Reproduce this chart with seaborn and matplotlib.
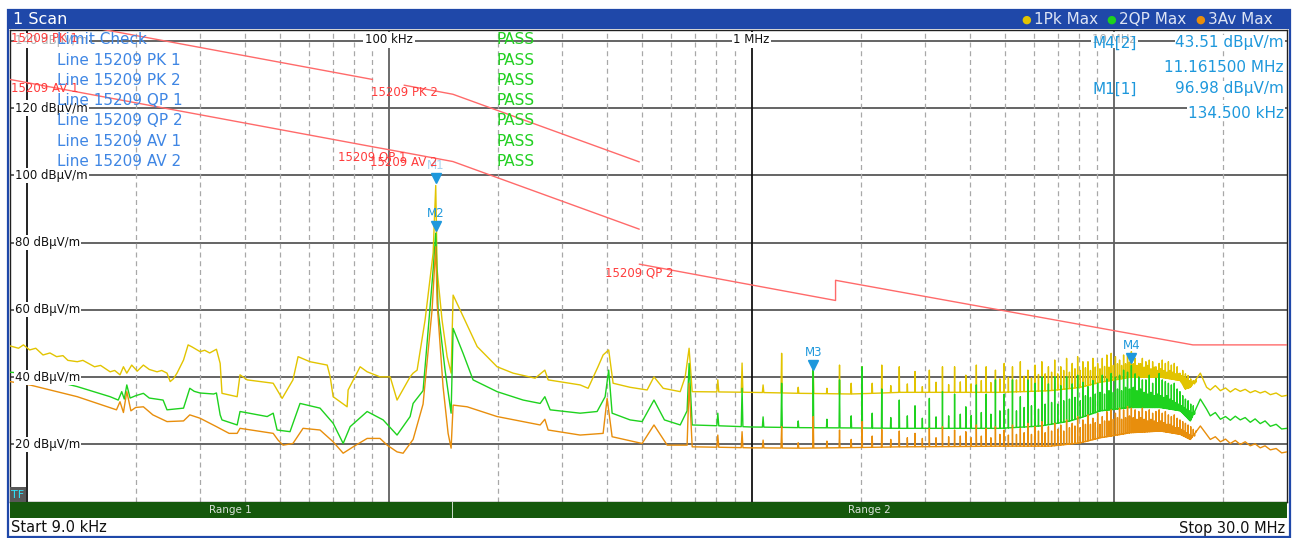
import numpy as np
import pandas as pd
import matplotlib
matplotlib.use("Agg")
import matplotlib.pyplot as plt
import seaborn as sns
from matplotlib.patches import Rectangle
from matplotlib.transforms import offset_copy

W, H = 1298, 538

# ---- traces, floor readings (kHz, dBuV/m) ----
pk_freq = [9.0, 9.5, 9.8, 10.2, 10.6, 11.1, 11.6, 12.1, 12.6, 13.0, 13.8, 14.3, 15.4, 16.0,
           17.0, 17.5, 18.1, 18.5, 18.9, 19.5, 20.2, 21.0, 21.8, 22.9, 23.6, 24.4, 24.9, 25.4,
           26.0, 27.1, 27.9, 28.6, 30.1, 31.0, 32.0, 33.4, 34.2, 34.6,
           38.1, 38.8, 40.6, 47.9, 50.7, 54.3, 56.1, 60.5, 67.5, 68.8, 70.1,
           76.6, 77.1, 83.2, 87.0, 94.4, 100.7, 105.2, 114.3, 116.5, 119.5, 125.7, 132.3, 134.5,
           135.7, 140.0, 144.6, 148.3, 150.2, 157.0, 175.0, 198.6, 219.9, 252.9, 269.0, 274.7,
           336.6, 354.1, 377.0, 389.5, 403.5, 415.0, 462.0, 515.1, 538.0, 570.4, 635.6, 656.0,
           672.5, 685.8, 991.5, 1362, 1871, 2571, 4854, 6670, 8069, 9160, 11090, 13410, 15240,
           15720, 16230, 17300, 18000, 18430, 19030, 19650, 20300, 20930, 21600, 22290, 23000,
           23760, 24500, 25310, 26100, 26990, 28000, 29000, 30000]
pk_level = [49.3, 48.6, 49.6, 48.1, 48.6, 46.6, 47.2, 46.1, 46.4, 45.0, 44.6, 45.0, 43.1, 43.5,
            41.6, 42.0, 40.7, 43.1, 41.2, 43.6, 41.8, 43.6, 42.3, 41.6, 42.0, 41.2, 38.7, 39.5,
            41.2, 45.1, 49.6, 49.0, 47.6, 48.0, 47.2, 48.3, 44.1, 35.2,
            34.2, 40.7, 39.2, 38.2, 33.7, 39.2, 46.1, 44.6, 43.6, 40.1, 34.2,
            31.2, 36.2, 43.1, 41.6, 40.1, 40.1, 33.2, 40.1, 41.2, 42.1, 57.0, 76.9, 96.98,
            71.9, 57.0, 46.1, 41.2, 64.4, 60.0, 49.1, 43.1, 41.2, 39.7, 42.1, 39.2,
            37.7, 36.7, 43.1, 46.6, 48.1, 38.2, 37.0, 36.2, 40.1, 36.7, 35.7, 40.1,
            48.6, 35.7, 35.5, 35.2, 35.0, 35.5, 35.5, 36.0, 37.0, 38.5, 40.0, 40.0, 39.0,
            36.5, 37.0, 41.2, 37.0, 36.2, 37.5, 36.0, 36.8, 35.6, 36.6, 35.8, 36.4,
            35.4, 36.0, 35.3, 35.8, 34.8, 35.3, 34.3, 34.6]

qp_freq = [9.0, 10.0, 11.1, 13.8, 17.0, 17.9, 18.3, 18.6, 18.9, 19.3, 20.0, 21.0, 21.8, 23.8,
           24.4, 27.1, 28.2, 29.0, 30.1, 32.8, 33.4, 34.2, 34.6,
           38.1, 38.8, 46.1, 47.9, 49.1, 53.3, 56.8, 64.5, 70.1, 74.7, 78.1, 87.0,
           96.3, 105.2, 114.3, 116.5, 124.1, 127.3, 132.3, 134.5, 136.5, 142.7, 148.3, 150.2,
           160.0, 170.5, 198.6, 234.4, 261.1, 269.0, 278.2, 336.6, 374.9, 394.5, 403.5, 412.4,
           462.3, 499.0, 538.0, 575.0, 635.6, 664.0, 672.5, 685.8, 991.5, 1362, 2571, 4854,
           6260, 7573, 9160, 11090, 13410, 15240, 16230, 17300, 18000, 18430, 19030, 19650,
           20300, 20930, 21600, 22290, 23000, 23760, 24500, 25310, 26100, 26990, 28000, 29000,
           30000]
qp_level = [41.5, 41.0, 39.7, 37.2, 34.2, 33.2, 35.7, 33.5, 37.7, 33.8, 34.5, 35.2, 33.8, 33.2,
            30.3, 30.8, 36.7, 35.8, 35.3, 35.0, 35.3, 28.8, 27.3,
            25.8, 29.8, 28.3, 29.3, 24.3, 23.8, 32.2, 30.8, 26.3, 20.3, 25.3, 29.8,
            27.3, 22.8, 28.3, 32.2, 36.0, 50.1, 71.9, 82.8, 60.0, 42.1, 29.3, 54.5,
            47.1, 39.2, 35.7, 33.2, 32.2, 34.2, 30.3, 29.3, 29.8, 34.2, 42.1, 29.3,
            27.3, 26.8, 33.2, 27.3, 25.8, 30.0, 44.1, 25.8, 25.2, 25.0, 24.8, 24.8,
            25.5, 27.0, 30.0, 31.0, 31.0, 30.0, 27.0, 33.5, 30.5, 28.5, 29.5, 27.5,
            28.3, 27.2, 28.4, 27.3, 28.0, 26.6, 27.6, 26.2, 27.0, 25.4, 26.0, 24.6,
            24.8]

av_freq = [9.0, 10.2, 13.8, 17.7, 18.1, 18.5, 18.9, 19.4, 20.0, 21.0, 22.3, 24.4, 27.1, 28.2,
           30.1, 33.4, 36.2,
           38.1, 38.8, 47.9, 49.4, 51.0, 54.3, 57.9, 64.5, 70.1, 74.7, 79.6, 87.0, 94.4, 98.8,
           105.2, 109.3, 116.5, 124.1, 131.4, 134.5, 135.7, 140.9, 145.5, 148.3, 150.2, 164.2,
           198.6, 234.4, 261.1, 269.0, 274.7, 336.6, 389.5, 399.5, 412.4, 499.0, 538.0, 585.1,
           664.0, 672.5, 685.8, 991.5, 1362, 2571, 4854, 6670, 8069, 9160, 11090, 13410, 15240,
           16230, 17300, 18000, 18430, 19030, 19650, 20300, 20930, 21600, 22290, 23000, 23760,
           24500, 25310, 26100, 26990, 28000, 29000, 30000]
av_level = [38.7, 37.7, 34.2, 30.3, 32.7, 29.5, 35.7, 30.0, 31.0, 31.2, 28.8, 26.8, 27.0, 28.8,
            27.8, 25.3, 23.3,
            23.3, 24.8, 23.3, 21.3, 19.8, 20.3, 24.8, 24.3, 20.8, 17.4, 19.3, 21.8, 21.8, 19.8,
            17.8, 17.4, 21.5, 32.0, 60.0, 78.8, 62.0, 37.2, 23.3, 18.9, 31.7, 31.2,
            28.3, 26.8, 25.8, 27.5, 24.3, 22.8, 23.3, 33.7, 22.3, 20.3, 25.8, 19.8,
            19.8, 38.2, 19.3, 19.0, 18.9, 19.3, 19.5, 19.5, 20.5, 22.0, 23.5, 24.0, 23.0,
            21.5, 25.5, 23.0, 21.5, 22.3, 20.8, 21.6, 20.3, 21.2, 20.0, 20.8, 19.6,
            20.2, 19.0, 19.6, 18.4, 18.8, 17.5, 17.8]

# ---- harmonic comb of the 134.5 kHz clock, peaks for n = 6 ... 125 ----
comb_step = 134.5
comb_n = list(range(6, 126))
pk_comb = [39.2, 44.2, 37.7, 47.1, 37.0, 43.5, 36.7, 43.6, 38.2, 43.1, 38.2,
           43.6, 37.5, 43.1, 38.0, 41.7, 37.2, 42.1, 38.5, 43.1, 37.8, 43.1, 38.6, 40.6, 38.0,
           43.6, 39.0, 43.1, 38.4, 42.1, 39.5, 44.1, 40.0, 43.1, 39.2, 44.6, 40.3, 42.1, 39.8,
           43.6, 40.8, 44.6, 41.0, 43.1, 41.5,
           45.1, 41.0, 43.1, 42.0, 45.6, 41.5, 44.1, 42.5, 46.1, 42.0, 44.6, 42.8, 44.6, 42.0,
           45.6, 43.0, 44.1, 42.5, 45.6, 43.2,
           46.6, 43.0, 47.1, 43.5, 46.1, 44.0, 45.1, 43.5, 46.6, 44.0, 46.6, 44.5, 47.6, 44.0,
           45.6, 43.5, 44.1, 44.0, 45.6, 43.0,
           44.6, 43.5, 45.1, 42.5, 44.6, 43.0, 43.1, 42.0, 44.1, 42.5, 45.1, 42.0, 44.1, 41.5,
           44.6, 42.0, 43.6, 41.5, 44.1, 41.0,
           43.1, 41.0, 41.2, 40.5, 42.0, 40.0, 41.0, 39.5, 40.5, 39.0, 39.5, 38.5, 39.0, 38.0, 38.5]
qp_comb = [29.3, 36.7, 28.2, 38.2, 27.0, 42.1, 27.5, 39.2, 28.5, 43.1, 29.3,
           36.5, 28.0, 33.2, 28.5, 31.5, 27.8, 33.7, 28.2, 35.7, 28.5, 35.0, 29.0, 31.2, 28.6,
           37.7, 29.5, 35.0, 29.0, 39.2, 30.0, 35.0, 30.5, 39.2, 30.0, 34.2, 31.0, 39.2, 31.5,
           38.2, 30.5, 40.1, 32.0, 38.0, 32.5,
           40.1, 32.0, 37.5, 33.0, 40.1, 33.5, 38.0, 34.0, 40.6, 33.0, 38.5, 34.5, 37.2, 34.0,
           39.0, 35.0, 38.2, 35.5, 40.6, 35.0,
           39.5, 36.0, 41.1, 35.5, 40.0, 36.5, 40.6, 36.0, 42.1, 37.0, 41.5, 36.5, 43.5, 37.0,
           41.0, 36.0, 40.1, 36.5, 39.2, 35.5,
           39.2, 35.0, 40.6, 35.5, 38.2, 34.5, 39.7, 35.0, 41.1, 34.5, 39.2, 34.0, 38.7, 34.5,
           38.2, 33.5, 37.7, 33.0, 38.2, 32.5,
           36.5, 32.0, 35.7, 31.5, 34.5, 31.0, 33.5, 30.5, 33.0, 30.0, 32.0, 29.5, 31.5, 29.0, 30.5]
av_comb = [22.8, 23.8, 21.3, 25.3, 20.5, 28.3, 21.0, 24.3, 21.5, 26.8, 22.5,
           24.5, 21.5, 24.0, 22.0, 23.3, 21.8, 24.8, 22.0, 25.3, 22.3, 24.3, 22.5, 23.8, 22.0,
           25.8, 22.5, 24.8, 22.0, 25.3, 23.0, 24.3, 22.8, 25.8, 23.0, 24.8, 23.5, 26.3, 23.0,
           25.3, 24.0, 26.8, 23.5, 25.3, 24.0,
           26.3, 24.5, 25.8, 24.0, 27.3, 25.0, 26.3, 25.5, 28.3, 25.0, 27.3, 26.0, 28.8, 26.0,
           27.8, 26.5, 29.3, 26.0, 28.3, 27.0,
           29.8, 27.0, 30.3, 27.5, 29.3, 28.0, 30.8, 27.5, 30.3, 28.0, 31.3, 28.5, 30.8, 28.0,
           30.3, 27.5, 29.8, 28.0, 30.8, 27.5,
           29.8, 27.0, 30.3, 27.5, 29.3, 27.0, 29.8, 26.5, 30.3, 27.0, 29.3, 26.5, 29.8, 26.0,
           28.8, 26.0, 28.3, 25.5, 28.8, 25.0,
           27.8, 25.0, 27.3, 24.5, 26.8, 24.0, 26.3, 23.5, 25.8, 23.0, 25.3, 22.5, 24.5, 22.5, 24.0]

# ---- FCC 15.209 limit lines (kHz, dBuV/m) ----
limits = {
    "15209 PK 1": ([9, 90], [148.5, 128.5]),
    "15209 PK 2": ([110, 150, 490], [126.8, 124.1, 104.0]),
    "15209 AV 1": ([9, 90], [128.5, 108.5]),
    "15209 QP 1": ([90, 110], [108.5, 106.8]),
    "15209 AV 2": ([110, 150, 490], [106.8, 104.1, 84.0]),
    "15209 QP 2": ([490, 1705, 1705, 16500, 30000], [73.6, 62.8, 68.8, 49.6, 49.6]),
}

# markers: name, kHz, level
marker_names = ["M1", "M2", "M3", "M4"]
marker_freq = [134.5, 134.5, 1479.5, 11161.5]
marker_level = [96.98, 82.8, 41.5, 43.51]

table_rows = ["Limit Check", "Line 15209 PK 1", "Line 15209 PK 2", "Line 15209 QP 1",
              "Line 15209 QP 2", "Line 15209 AV 1", "Line 15209 AV 2"]
table_result = ["PASS"] * 7

YEL, GRN, ORG = "#e2c400", "#1ed21e", "#e88e0c"
RED = "#ff3c3c"
BLUE_TXT = "#3f86e4"
MK = "#1e98dc"


def with_comb(freq, level, peaks):
    f = np.array(freq, float)
    v = np.array(level, float)
    pts = list(zip(f, v))
    for n, p in zip(comb_n, peaks):
        fc = n * comb_step
        pts.append((fc - 5, np.interp(fc - 5, f, v)))
        pts.append((fc, p))
        pts.append((fc + 5, np.interp(fc + 5, f, v)))
    pts.sort()
    return pd.DataFrame(pts, columns=["freq", "level"])


sns.set_style("white")
plt.rcParams["font.family"] = ["DejaVu Sans"]

fig = plt.figure(figsize=(W / 100, H / 100), dpi=100)
fig.patch.set_facecolor("white")


def fx(x):
    return x / W


def fy(y):
    return 1 - y / H


def ftext(x, y, s, **kw):
    kw.setdefault("va", "center")
    kw.setdefault("zorder", 12)
    fig.text(fx(x), fy(y), s, **kw)


ax = fig.add_axes([fx(10), fy(502), (1287 - 10) / W, (502 - 30) / H])
ax.set_xscale("log")
ax.set_xlim(9, 30000)
ax.set_ylim(2.9, 143.2)
ax.set_xticks([])
ax.set_yticks([])
ax.minorticks_off()
for s in ax.spines.values():
    s.set_color("#202020")
    s.set_linewidth(1)

# grid
for lv in range(20, 141, 20):
    ax.axhline(lv, color="#3a3a3a", lw=1.1, zorder=1)
for i, dec in enumerate([10, 100, 1000, 10000]):
    ax.axvline(dec, color="#111111" if i % 2 == 0 else "#606060", lw=1.3, zorder=1)
    for k in range(2, 10):
        if k * dec < 30000:
            ax.axvline(k * dec, color="#a8a8a8", lw=0.9, ls=(0, (4, 3)), zorder=1)

for lv in range(20, 121, 20):
    ax.text(0.004, lv, f"{lv} dBµV/m", transform=ax.get_yaxis_transform(),
            fontsize=8.5, color="#111111", va="center", ha="left", zorder=6,
            bbox=dict(facecolor="white", edgecolor="none", pad=0.8))
ax.text(0.004, 140, "140 dBµV/m", transform=ax.get_yaxis_transform(), fontsize=8.5,
        color="#b0b0b0", va="center", ha="left", zorder=6,
        bbox=dict(facecolor="white", edgecolor="none", pad=0.8))
for f, lab, col in [(100, "100 kHz", "#111111"), (1000, "1 MHz", "#111111"),
                    (10000, "10 MHz", "#b0b0b0")]:
    ax.text(f, 140.3, lab, fontsize=8.5, color=col, ha="center", va="center", zorder=6,
            bbox=dict(facecolor="white", edgecolor="none", pad=1.2))

# traces
for fr, lv, comb, col in [(pk_freq, pk_level, pk_comb, YEL),
                          (qp_freq, qp_level, qp_comb, GRN),
                          (av_freq, av_level, av_comb, ORG)]:
    df = with_comb(fr, lv, comb)
    sns.lineplot(data=df, x="freq", y="level", ax=ax, color=col, lw=1.0,
                 estimator=None, sort=False, legend=False, zorder=3)

# limit lines
for name, (lf, lv) in limits.items():
    sns.lineplot(x=lf, y=lv, ax=ax, color="#ff6a6a", lw=1.0, estimator=None,
                 sort=False, legend=False, zorder=4)
ax.set_xlabel("")
ax.set_ylabel("")

ax.text(9.05, 140.6, "15209 PK 1", color=RED, fontsize=8.5, ha="left", va="center", zorder=8)
ax.text(9.05, 125.7, "15209 AV 1", color=RED, fontsize=8.5, ha="left", va="center", zorder=8)
ax.text(110, 124.5, "15209 PK 2", color=RED, fontsize=8.5, ha="center", va="center", zorder=8)
ax.text(90, 105.4, "15209 QP 1", color=RED, fontsize=8.5, ha="center", va="center", zorder=8)
ax.text(110, 103.9, "15209 AV 2", color=RED, fontsize=8.5, ha="center", va="center", zorder=8)
ax.text(490, 71.0, "15209 QP 2", color=RED, fontsize=8.5, ha="center", va="center", zorder=8)

# markers
tri = offset_copy(ax.transData, fig=fig, y=7, units="dots")
lab = offset_copy(ax.transData, fig=fig, y=20, units="dots")
for nm, f, lv in zip(marker_names, marker_freq, marker_level):
    ax.plot([f], [lv], marker="v", ms=7, color=MK, mec=MK, transform=tri, zorder=9)
    ax.text(f, lv, nm, transform=lab, fontsize=8.5, ha="center", va="center", zorder=7,
            color="#a8d4f2" if nm == "M1" else MK)

# TF box
fig.patches.append(Rectangle((fx(10), fy(502)), fx(16), 15 / H, transform=fig.transFigure,
                             facecolor="#585858", edgecolor="none", zorder=5))
ftext(18, 495, "TF", color="#2ee6ff", fontsize=8, ha="center")

# limit check table
for i, (row, res) in enumerate(zip(table_rows, table_result)):
    y = 40 + i * 20.2
    ftext(57, y, row, color=BLUE_TXT, fontsize=11, ha="left")
    ftext(497, y, res, color="#22d022", fontsize=11, ha="left")

# marker readout
for x_lab, y, s1, s2 in [(1093, 43, "M4[2]", "43.51 dBµV/m"), (None, 67, None, "11.161500 MHz"),
                         (1093, 89, "M1[1]", "96.98 dBµV/m"), (None, 113, None, "134.500 kHz")]:
    if s1:
        ftext(x_lab, y, s1, color=MK, fontsize=11, ha="left")
    ftext(1284, y, s2, color=MK, fontsize=11, ha="right",
          bbox=dict(facecolor="white", edgecolor="none", pad=0.5))

# header bar
fig.patches.append(Rectangle((fx(8), fy(29)), fx(1282), 19 / H, transform=fig.transFigure,
                             facecolor="#1f48a9", edgecolor="none", zorder=0))
ftext(13, 20, "1 Scan", color="white", fontsize=11.5, ha="left")
for x, col, s in [(1026, YEL, "1Pk Max"), (1111, GRN, "2QP Max"), (1200, ORG, "3Av Max")]:
    ftext(x, 20, "●", color=col, fontsize=8, ha="center")
    ftext(x + 8, 20, s, color="#dde4f4", fontsize=11, ha="left")

# range bar
fig.patches.append(Rectangle((fx(10), fy(518)), fx(1277), 16 / H, transform=fig.transFigure,
                             facecolor="#15580c", edgecolor="none", zorder=0))
fig.patches.append(Rectangle((fx(452), fy(518)), fx(1.2), 16 / H, transform=fig.transFigure,
                             facecolor="#c8d8c8", edgecolor="none", zorder=1))
ftext(230, 510, "Range 1", color="#d8e0d8", fontsize=7.5, ha="center")
ftext(869, 510, "Range 2", color="#d8e0d8", fontsize=7.5, ha="center")

# status line
ftext(11, 528, "Start 9.0 kHz", color="#111111", fontsize=10.5, ha="left")
ftext(1285, 528, "Stop 30.0 MHz", color="#111111", fontsize=10.5, ha="right")

# outer frame
fig.patches.append(Rectangle((fx(8), fy(537)), fx(1282), 527 / H, transform=fig.transFigure,
                             facecolor="none", edgecolor="#1f48a9", lw=1.6, zorder=10))

fig.savefig("out.png", dpi=100)
